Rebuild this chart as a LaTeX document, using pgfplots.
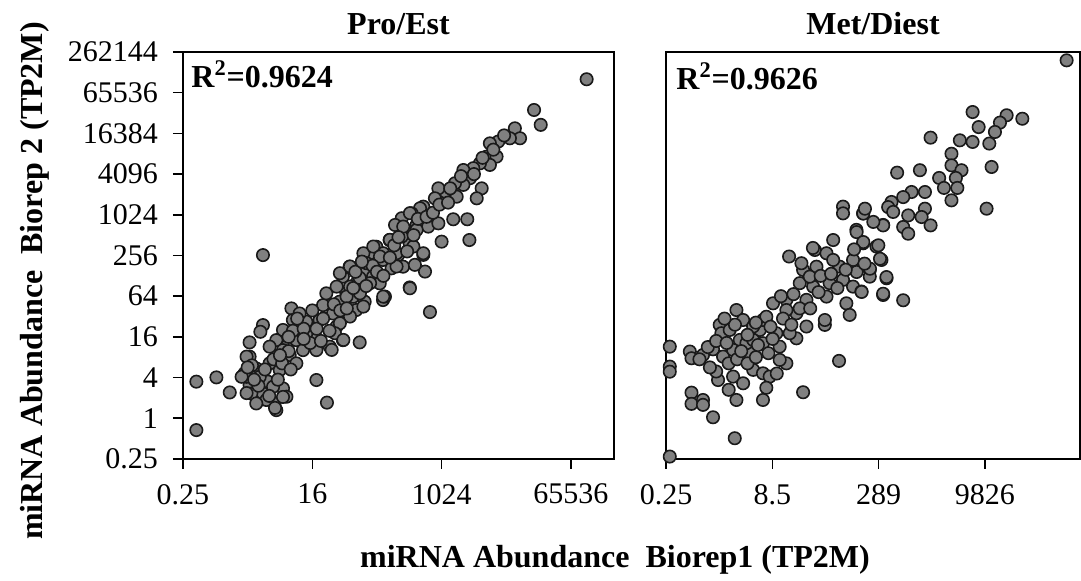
\documentclass[border=0pt]{standalone}
\usepackage{fontspec}
\setmainfont{Liberation Serif}
\usepackage{pgfplots}
\usepackage{pgfplotstable}
\pgfplotsset{compat=1.18}
\definecolor{ptfill}{RGB}{128,128,128}
\definecolor{ptedge}{RGB}{25,25,25}

% log2 values of abundance (TP2M): x = Biorep1, y = Biorep2
\pgfplotstableread{
x y
-1.38 1.80
-1.38 -0.58
-0.45 2.01
0.17 1.27
1.71 8.02
4.19 1.88
4.68 0.77
3.03 5.40
6.20 3.73
7.28 5.81
8.52 6.43
1.71 4.58
1.59 4.25
1.09 3.73
1.09 3.03
0.86 2.21
1.40 2.45
1.94 1.80
2.49 2.37
1.09 1.63
1.71 1.22
2.25 0.73
2.33 0.40
2.64 1.47
2.80 1.06
1.56 2.04
2.02 2.70
1.17 1.22
1.87 0.90
0.94 2.04
2.18 1.55
1.40 0.73
2.33 3.84
2.64 4.34
2.95 3.11
3.26 2.70
2.80 3.52
3.41 4.66
3.72 4.75
3.26 3.84
3.57 3.35
4.03 4.01
4.34 4.83
4.50 5.56
4.65 6.14
4.96 5.15
5.12 4.50
5.42 3.84
4.81 3.52
4.19 3.35
3.72 4.17
3.10 4.83
2.64 3.35
2.02 3.52
3.41 5.15
5.42 6.96
5.73 7.45
6.04 6.63
6.51 7.28
6.66 8.10
6.97 8.43
7.28 7.78
7.59 8.76
7.90 8.10
8.21 7.45
5.58 6.14
6.04 5.32
6.43 5.73
6.82 6.96
7.13 6.63
7.74 7.45
8.52 8.59
5.89 5.97
5.27 5.73
16.73 16.66
14.29 15.15
14.60 14.42
13.40 14.25
13.64 13.76
13.17 13.76
12.63 13.60
12.24 13.51
12.09 12.86
12.55 12.86
12.24 12.45
11.78 12.53
11.47 12.29
11.01 12.20
11.32 11.80
11.01 11.47
10.62 11.55
11.86 11.30
11.63 10.81
10.70 10.89
10.16 11.14
9.85 11.30
9.69 10.81
9.15 10.40
9.00 10.32
8.61 10.07
8.15 9.83
7.84 9.50
8.38 9.17
8.84 9.50
9.38 9.42
9.85 9.58
10.54 9.78
11.19 9.78
10.00 8.68
11.29 8.76
7.60 8.76
7.99 8.03
8.69 8.44
9.15 8.03
9.23 7.21
8.76 7.54
7.68 7.37
7.29 8.11
8.53 6.39
7.37 5.98
8.15 8.93
5.28 7.13
5.75 7.46
6.37 8.11
6.83 8.44
6.52 7.62
7.14 7.95
7.60 8.77
7.91 8.11
8.22 9.42
8.53 10.08
8.84 9.26
9.15 8.11
7.29 5.98
5.75 6.47
7.91 7.46
9.46 5.22
5.13 6.47
5.59 5.98
6.21 6.14
6.37 5.49
5.75 5.00
5.28 4.67
5.05 4.18
5.44 3.85
4.90 3.36
6.68 6.64
0.72 2.04
0.95 3.03
2.27 0.51
0.95 1.24
2.64 1.05
1.20 2.60
1.50 1.60
2.00 1.10
2.40 1.90
1.80 2.40
2.20 2.90
1.00 2.50
1.30 1.90
2.60 2.70
2.90 3.30
3.00 2.40
2.50 3.10
3.10 4.30
3.60 4.40
3.90 3.70
4.20 4.40
4.50 4.90
4.80 4.30
5.00 5.60
5.30 5.30
5.60 5.40
5.90 6.40
6.20 6.90
6.50 6.50
6.80 7.50
7.00 7.20
7.30 7.00
7.60 7.90
7.80 8.50
8.00 8.90
8.40 8.20
8.70 9.00
8.90 9.80
9.30 9.90
9.60 10.10
9.90 10.50
10.30 10.60
10.40 11.30
10.90 11.90
11.50 12.00
11.90 12.80
12.40 13.20
12.90 13.90
3.60 3.90
4.40 3.80
3.30 4.90
4.00 5.30
2.90 4.00
6.00 7.20
6.30 7.70
}\proest

\pgfplotstableread{
x y
-1.82 -1.88
-1.82 3.52
-1.82 2.54
-1.82 2.29
1.29 -0.98
0.25 0.05
-0.78 1.26
-0.78 0.71
-0.23 0.90
-0.23 0.66
1.37 0.90
2.64 0.90
4.56 1.28
6.28 2.82
-0.86 3.28
-0.78 2.95
-0.23 3.11
0.25 3.39
0.57 4.59
0.65 4.18
1.37 5.32
1.69 4.83
1.05 4.34
1.53 3.85
0.73 3.03
0.49 1.88
1.21 2.05
1.69 1.72
2.17 2.38
2.64 2.21
2.96 2.05
2.01 3.20
2.64 3.69
2.49 4.34
2.64 4.83
3.28 4.18
3.44 3.52
3.76 2.70
3.44 2.87
3.12 5.65
3.76 5.82
4.24 5.16
4.72 4.51
4.24 3.93
3.92 4.18
4.72 5.82
4.40 6.64
4.56 7.29
4.48 7.62
3.89 7.95
5.12 8.27
5.60 4.59
5.60 4.83
5.04 6.47
5.68 5.98
5.83 6.64
5.68 8.11
6.00 8.76
6.31 7.45
6.47 6.80
6.63 5.65
6.79 5.08
6.95 6.47
6.95 7.78
7.11 9.26
7.43 8.60
7.43 10.07
7.75 7.29
8.07 8.44
8.31 7.78
8.39 9.50
8.55 6.88
8.39 6.06
7.35 6.23
6.47 10.40
6.47 10.07
7.75 6.96
6.00 7.78
5.20 7.45
4.88 6.96
3.76 5.32
2.80 4.99
2.17 4.51
1.85 3.69
1.21 3.36
2.17 3.85
17.17 17.59
15.05 14.72
14.30 14.89
13.98 14.53
13.74 14.07
13.47 13.50
12.67 15.05
12.96 14.31
12.67 13.58
12.06 13.66
13.58 12.35
13.34 10.30
10.66 13.79
11.66 13.00
11.66 12.43
12.14 12.19
11.87 11.81
11.07 11.81
11.30 11.32
11.94 11.32
11.66 10.71
10.15 12.19
9.06 12.07
10.39 11.12
9.75 11.12
9.35 10.87
8.79 10.63
8.63 10.38
10.39 10.30
10.23 9.89
10.66 9.48
9.59 9.97
9.35 9.40
9.59 9.07
8.87 10.14
8.39 9.48
7.92 9.65
7.44 10.06
7.52 10.30
7.12 9.15
7.44 8.66
8.16 8.50
8.24 7.84
7.76 7.35
7.12 7.19
8.55 6.94
7.36 6.21
8.39 6.12
9.35 5.80
5.03 8.37
0.00 3.50
0.40 3.80
0.90 3.70
1.00 2.70
1.40 2.90
1.60 3.30
1.90 2.70
2.30 3.00
2.40 3.60
1.90 4.10
1.30 4.60
0.80 4.90
2.90 3.20
3.10 3.90
3.00 4.50
3.60 4.90
4.00 4.60
4.40 5.40
4.10 6.10
3.50 6.00
4.90 5.40
5.30 6.20
5.40 7.00
5.90 7.10
6.20 6.40
6.60 7.30
7.00 8.30
7.50 7.60
2.30 4.70
1.00 1.40
0.40 2.30
-0.40 2.90
0.10 2.50
2.80 1.50
3.30 2.20
}\metdiest

\pgfplotsset{
  panel/.style={
    scale only axis, anchor=south west, height=203.5pt,
    ymin=-2, ymax=18,
    tick pos=left, tick align=outside, major tick length=5pt,
    axis line style={line width=0.8pt, black},
    tick style={line width=0.8pt, black},
    ticklabel style={font=\fontsize{15}{18}\selectfont},
    xticklabel style={yshift=-4pt},
    yticklabel style={xshift=-4pt},
    clip=false,
  },
  pts/.style={only marks, mark=*, mark size=3.1pt,
    mark options={fill=ptfill, draw=ptedge, line width=0.8pt}},
}

\begin{document}
\begin{tikzpicture}
\useasboundingbox (0,0) rectangle (540.5pt,290.5pt);
\begin{axis}[panel, at={(91.5pt,61pt)}, width=215.5pt,
  xmin=-2, xmax=18,
  xtick={-2,4,10,16}, xticklabels={0.25,16,1024,65536},
  ytick={-2,0,2,4,6,8,10,12,14,16,18},
  yticklabels={0.25,1,4,16,64,256,1024,4096,16384,65536,262144}]
\addplot[pts] table[x=x,y=y] {\proest};
\node[anchor=base west, font=\fontsize{16}{19}\bfseries\selectfont, inner sep=0pt]
  at (rel axis cs:0,1) [xshift=4pt, yshift=-18pt] {R\textsuperscript{2}=0.9624};
\end{axis}
\begin{axis}[panel, at={(333pt,61pt)}, width=207pt,
  xmin=-2, xmax=17.81,
  xtick={-2,3.087,8.175,13.262}, xticklabels={0.25,8.5,289,9826},
  ytick=\empty]
\addplot[pts] table[x=x,y=y] {\metdiest};
\node[anchor=base west, font=\fontsize{16}{19}\bfseries\selectfont, inner sep=0pt]
  at (rel axis cs:0,1) [xshift=5pt, yshift=-19pt] {R\textsuperscript{2}=0.9626};
\end{axis}
\node[anchor=base, font=\fontsize{16}{19}\bfseries\selectfont, inner sep=0pt] at (199.25pt,273pt) {Pro/Est};
\node[anchor=base, font=\fontsize{16}{19}\bfseries\selectfont, inner sep=0pt] at (436.5pt,273pt) {Met/Diest};
\node[anchor=base, font=\fontsize{16}{19}\bfseries\selectfont, inner sep=0pt] at (307.5pt,6.5pt) {miRNA Abundance\ \ Biorep1 (TP2M)};
\node[anchor=base, rotate=90, font=\fontsize{16}{19}\bfseries\selectfont, inner sep=0pt] at (21pt,150pt) {miRNA Abundance\ \ Biorep 2 (TP2M)};
\end{tikzpicture}
\end{document}
